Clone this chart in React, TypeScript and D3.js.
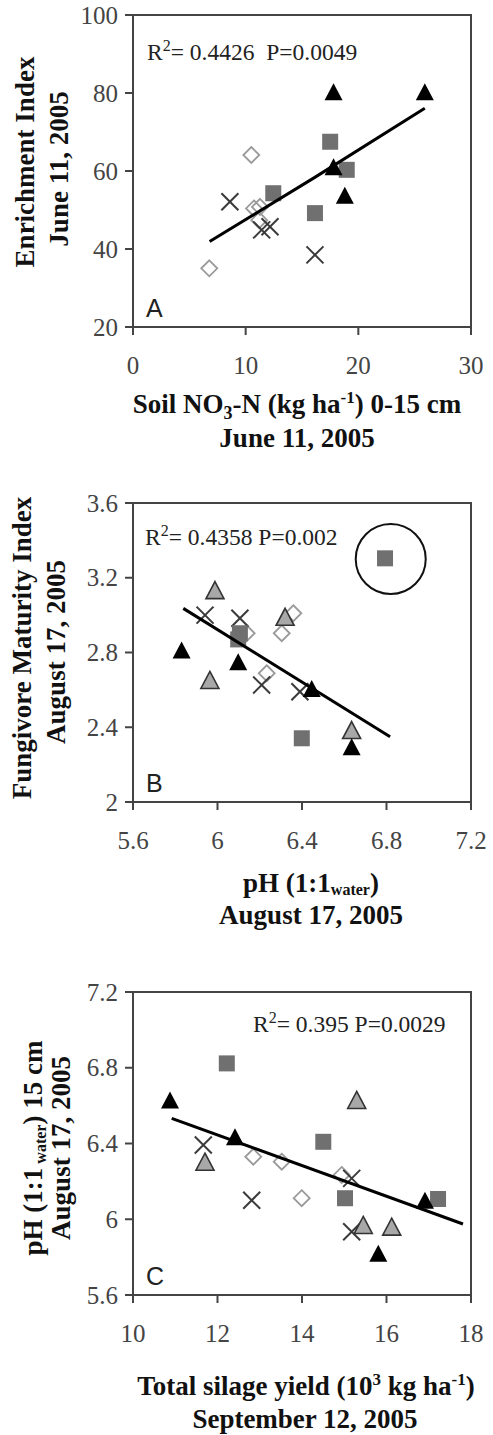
import React from "react";
import * as d3 from "d3";

type Pt = [number, number];

// ---------- Panel A : Soil NO3-N vs Enrichment Index ----------
const aTriBlack: Pt[] = [[17.8, 80.3], [25.9, 80.3], [17.8, 61.1], [18.8, 53.8]];
const aSquare: Pt[] = [[17.5, 67.5], [18.97, 60.3], [12.45, 54.3], [16.15, 49.2]];
const aDiamond: Pt[] = [[10.5, 64.1], [10.74, 50.4], [11.27, 50.8], [11.2, 47.4], [6.77, 35.05]];
const aCross: Pt[] = [[8.6, 52.1], [11.42, 44.9], [12.16, 45.7], [16.15, 38.5]];
const aTriGray: Pt[] = [];
const aTrend: Pt[] = [[6.8, 41.9], [16.1, 58.3], [25.9, 76.1]];
const aXTicks = [0, 10, 20, 30];
const aYTicks = [20, 40, 60, 80, 100];

// ---------- Panel B : pH vs Fungivore Maturity Index ----------
const bTriBlack: Pt[] = [[5.83, 2.813], [6.098, 2.751], [6.446, 2.608], [6.635, 2.296]];
const bSquare: Pt[] = [[6.793, 3.304], [6.106, 2.903], [6.098, 2.87], [6.399, 2.341]];
const bDiamond: Pt[] = [[6.359, 3.01], [6.304, 2.903], [6.138, 2.903], [6.233, 2.689]];
const bCross: Pt[] = [[5.941, 3.0], [6.106, 2.983], [6.209, 2.626], [6.39, 2.59]];
const bTriGray: Pt[] = [[5.988, 3.134], [6.32, 2.991], [5.964, 2.653], [6.635, 2.385]];
const bTrend: Pt[] = [[5.838, 3.036], [6.817, 2.349]];
const bOutlier: Pt = [6.82, 3.3];
const bXTicks = [5.6, 6, 6.4, 6.8, 7.2];
const bYTicks = [2, 2.4, 2.8, 3.2, 3.6];

// ---------- Panel C : Total silage yield vs pH ----------
const cTriBlack: Pt[] = [[10.876, 6.63], [12.414, 6.436], [15.806, 5.82], [16.91, 6.1]];
const cSquare: Pt[] = [[12.22, 6.823], [14.504, 6.409], [15.018, 6.111], [17.22, 6.107]];
const cDiamond: Pt[] = [[12.847, 6.33], [13.52, 6.304], [13.993, 6.111], [14.94, 6.234]];
const cCross: Pt[] = [[11.664, 6.392], [12.81, 6.1], [15.176, 6.216], [15.176, 5.934]];
const cTriGray: Pt[] = [[15.295, 6.63], [11.704, 6.304], [15.45, 5.97], [16.123, 5.961]];
const cTrend: Pt[] = [[10.916, 6.533], [17.81, 5.975]];
const cXTicks = [10, 12, 14, 16, 18];
const cYTicks = [5.6, 6, 6.4, 6.8, 7.2];

const SERIF = "'Liberation Serif', 'Times New Roman', serif";
const SANS = "'Liberation Sans', Arial, sans-serif";

function Marker({ kind, x, y }: { kind: string; x: number; y: number }) {
  if (kind === "triBlack" || kind === "triGray") {
    const w = 9, h = 8.5;
    const d = `M${x},${y - h}L${x + w},${y + h}L${x - w},${y + h}Z`;
    return kind === "triBlack" ? (
      <path d={d} fill="#000" />
    ) : (
      <path d={d} fill="#a8a8a8" stroke="#333" strokeWidth={1.6} />
    );
  }
  if (kind === "square") {
    const s = 8;
    return <rect x={x - s} y={y - s} width={2 * s} height={2 * s} fill="#707070" />;
  }
  if (kind === "diamond") {
    const s = 8;
    return (
      <path
        d={`M${x},${y - s}L${x + s},${y}L${x},${y + s}L${x - s},${y}Z`}
        fill="none"
        stroke="#9a9a9a"
        strokeWidth={1.8}
      />
    );
  }
  const s = 8.5;
  return (
    <g stroke="#3a3a3a" strokeWidth={2}>
      <line x1={x - s} y1={y - s} x2={x + s} y2={y + s} />
      <line x1={x - s} y1={y + s} x2={x + s} y2={y - s} />
    </g>
  );
}

interface PanelProps {
  top: number;
  bottom: number;
  xDomain: [number, number];
  yDomain: [number, number];
  xTicks: number[];
  yTicks: number[];
  series: { kind: string; pts: Pt[] }[];
  trend: Pt[];
  letter: string;
  children?: React.ReactNode;
  outlier?: Pt;
}

const LEFT = 133;
const RIGHT = 471;

function Panel(p: PanelProps) {
  const x = d3.scaleLinear().domain(p.xDomain).range([LEFT, RIGHT]);
  const y = d3.scaleLinear().domain(p.yDomain).range([p.bottom, p.top]);
  const line = d3
    .line<Pt>()
    .x((d) => x(d[0]))
    .y((d) => y(d[1]));
  return (
    <g>
      <rect x={LEFT} y={p.top} width={RIGHT - LEFT} height={p.bottom - p.top} fill="none" stroke="#444" strokeWidth={2} />
      {p.yTicks.map((t) => (
        <g key={"y" + t}>
          <line x1={LEFT - 8} x2={LEFT} y1={y(t)} y2={y(t)} stroke="#444" strokeWidth={2} />
          <text x={118} y={y(t) + 8.5} textAnchor="end" fontFamily={SERIF} fontSize={25} fill="#444">
            {t}
          </text>
        </g>
      ))}
      {p.xTicks.map((t) => (
        <g key={"x" + t}>
          <line x1={x(t)} x2={x(t)} y1={p.bottom} y2={p.bottom + 8} stroke="#444" strokeWidth={2} />
          <text x={x(t)} y={p.bottom + 47} textAnchor="middle" fontFamily={SERIF} fontSize={25} fill="#444">
            {t}
          </text>
        </g>
      ))}
      {p.series.map((s) =>
        s.pts.map((d, i) => <Marker key={s.kind + i} kind={s.kind} x={x(d[0])} y={y(d[1])} />)
      )}
      <path d={line(p.trend) || ""} fill="none" stroke="#000" strokeWidth={3} />
      {p.outlier && (
        <circle cx={x(p.outlier[0])} cy={y(p.outlier[1])} r={35} fill="none" stroke="#111" strokeWidth={2} />
      )}
      <text x={146} y={p.bottom - 10} fontFamily={SANS} fontSize={25} fill="#222">
        {p.letter}
      </text>
      {p.children}
    </g>
  );
}

export default function App() {
  const titleStyle = { fontFamily: SERIF, fontWeight: "bold" as const, fontSize: 27, fill: "#111" };
  const rStyle = { fontFamily: SERIF, fontSize: 23.5, fill: "#222", whiteSpace: "pre" as const };
  return (
    <svg width={493} height={1435} style={{ position: "absolute", left: 0, top: 0, background: "#fff" }}>
      <rect width={493} height={1435} fill="#fff" />
      {/* ---------- A ---------- */}
      <Panel
        top={15}
        bottom={327}
        xDomain={[0, 30]}
        yDomain={[20, 100]}
        xTicks={aXTicks}
        yTicks={aYTicks}
        trend={aTrend}
        letter="A"
        series={[
          { kind: "diamond", pts: aDiamond },
          { kind: "cross", pts: aCross },
          { kind: "square", pts: aSquare },
          { kind: "triGray", pts: aTriGray },
          { kind: "triBlack", pts: aTriBlack },
        ]}
      >
        <text x={147} y={60} style={rStyle}>
          R<tspan fontSize={16} dy={-9}>2</tspan>
          <tspan dy={9}>{"= 0.4426  P=0.0049"}</tspan>
        </text>
      </Panel>
      <text transform="translate(34,162) rotate(-90)" textAnchor="middle" style={titleStyle}>
        Enrichment Index
      </text>
      <text transform="translate(68,169) rotate(-90)" textAnchor="middle" style={titleStyle}>
        June 11, 2005
      </text>
      <text x={297} y={413} textAnchor="middle" style={titleStyle}>
        Soil NO<tspan fontSize={18} dy={6}>3</tspan>
        <tspan dy={-6}>-N (kg ha</tspan>
        <tspan fontSize={17} dy={-10}>-1</tspan>
        <tspan dy={10}>) 0-15 cm</tspan>
      </text>
      <text x={297} y={447} textAnchor="middle" style={titleStyle}>
        June 11, 2005
      </text>

      {/* ---------- B ---------- */}
      <Panel
        top={503}
        bottom={802}
        xDomain={[5.6, 7.2]}
        yDomain={[2, 3.6]}
        xTicks={bXTicks}
        yTicks={bYTicks}
        trend={bTrend}
        letter="B"
        outlier={bOutlier}
        series={[
          { kind: "diamond", pts: bDiamond },
          { kind: "cross", pts: bCross },
          { kind: "square", pts: bSquare },
          { kind: "triGray", pts: bTriGray },
          { kind: "triBlack", pts: bTriBlack },
        ]}
      >
        <text x={145} y={545} style={rStyle}>
          R<tspan fontSize={16} dy={-9}>2</tspan>
          <tspan dy={9}>{"= 0.4358 P=0.002"}</tspan>
        </text>
      </Panel>
      <text transform="translate(31,648) rotate(-90)" textAnchor="middle" style={titleStyle}>
        Fungivore Maturity Index
      </text>
      <text transform="translate(65,652) rotate(-90)" textAnchor="middle" style={titleStyle}>
        August 17, 2005
      </text>
      <text x={311} y={892} textAnchor="middle" style={titleStyle}>
        pH (1:1<tspan fontSize={16} dy={3}>water</tspan>
        <tspan dy={-3}>)</tspan>
      </text>
      <text x={311} y={924} textAnchor="middle" style={titleStyle}>
        August 17, 2005
      </text>

      {/* ---------- C ---------- */}
      <Panel
        top={992}
        bottom={1295}
        xDomain={[10, 18]}
        yDomain={[5.6, 7.2]}
        xTicks={cXTicks}
        yTicks={cYTicks}
        trend={cTrend}
        letter="C"
        series={[
          { kind: "diamond", pts: cDiamond },
          { kind: "cross", pts: cCross },
          { kind: "square", pts: cSquare },
          { kind: "triGray", pts: cTriGray },
          { kind: "triBlack", pts: cTriBlack },
        ]}
      >
        <text x={253} y={1032} style={rStyle}>
          R<tspan fontSize={16} dy={-9}>2</tspan>
          <tspan dy={9}>{"= 0.395 P=0.0029"}</tspan>
        </text>
      </Panel>
      <text transform="translate(42,1148) rotate(-90)" textAnchor="middle" style={titleStyle}>
        pH (1:1<tspan fontSize={16} dy={4}> water</tspan>
        <tspan dy={-4}>) 15 cm</tspan>
      </text>
      <text transform="translate(70,1148) rotate(-90)" textAnchor="middle" style={titleStyle}>
        August 17, 2005
      </text>
      <text x={306} y={1395} textAnchor="middle" style={titleStyle}>
        Total silage yield (10<tspan fontSize={17} dy={-10}>3</tspan>
        <tspan dy={10}> kg ha</tspan>
        <tspan fontSize={17} dy={-10}>-1</tspan>
        <tspan dy={10}>)</tspan>
      </text>
      <text x={305} y={1428} textAnchor="middle" style={titleStyle}>
        September 12, 2005
      </text>
    </svg>
  );
}
